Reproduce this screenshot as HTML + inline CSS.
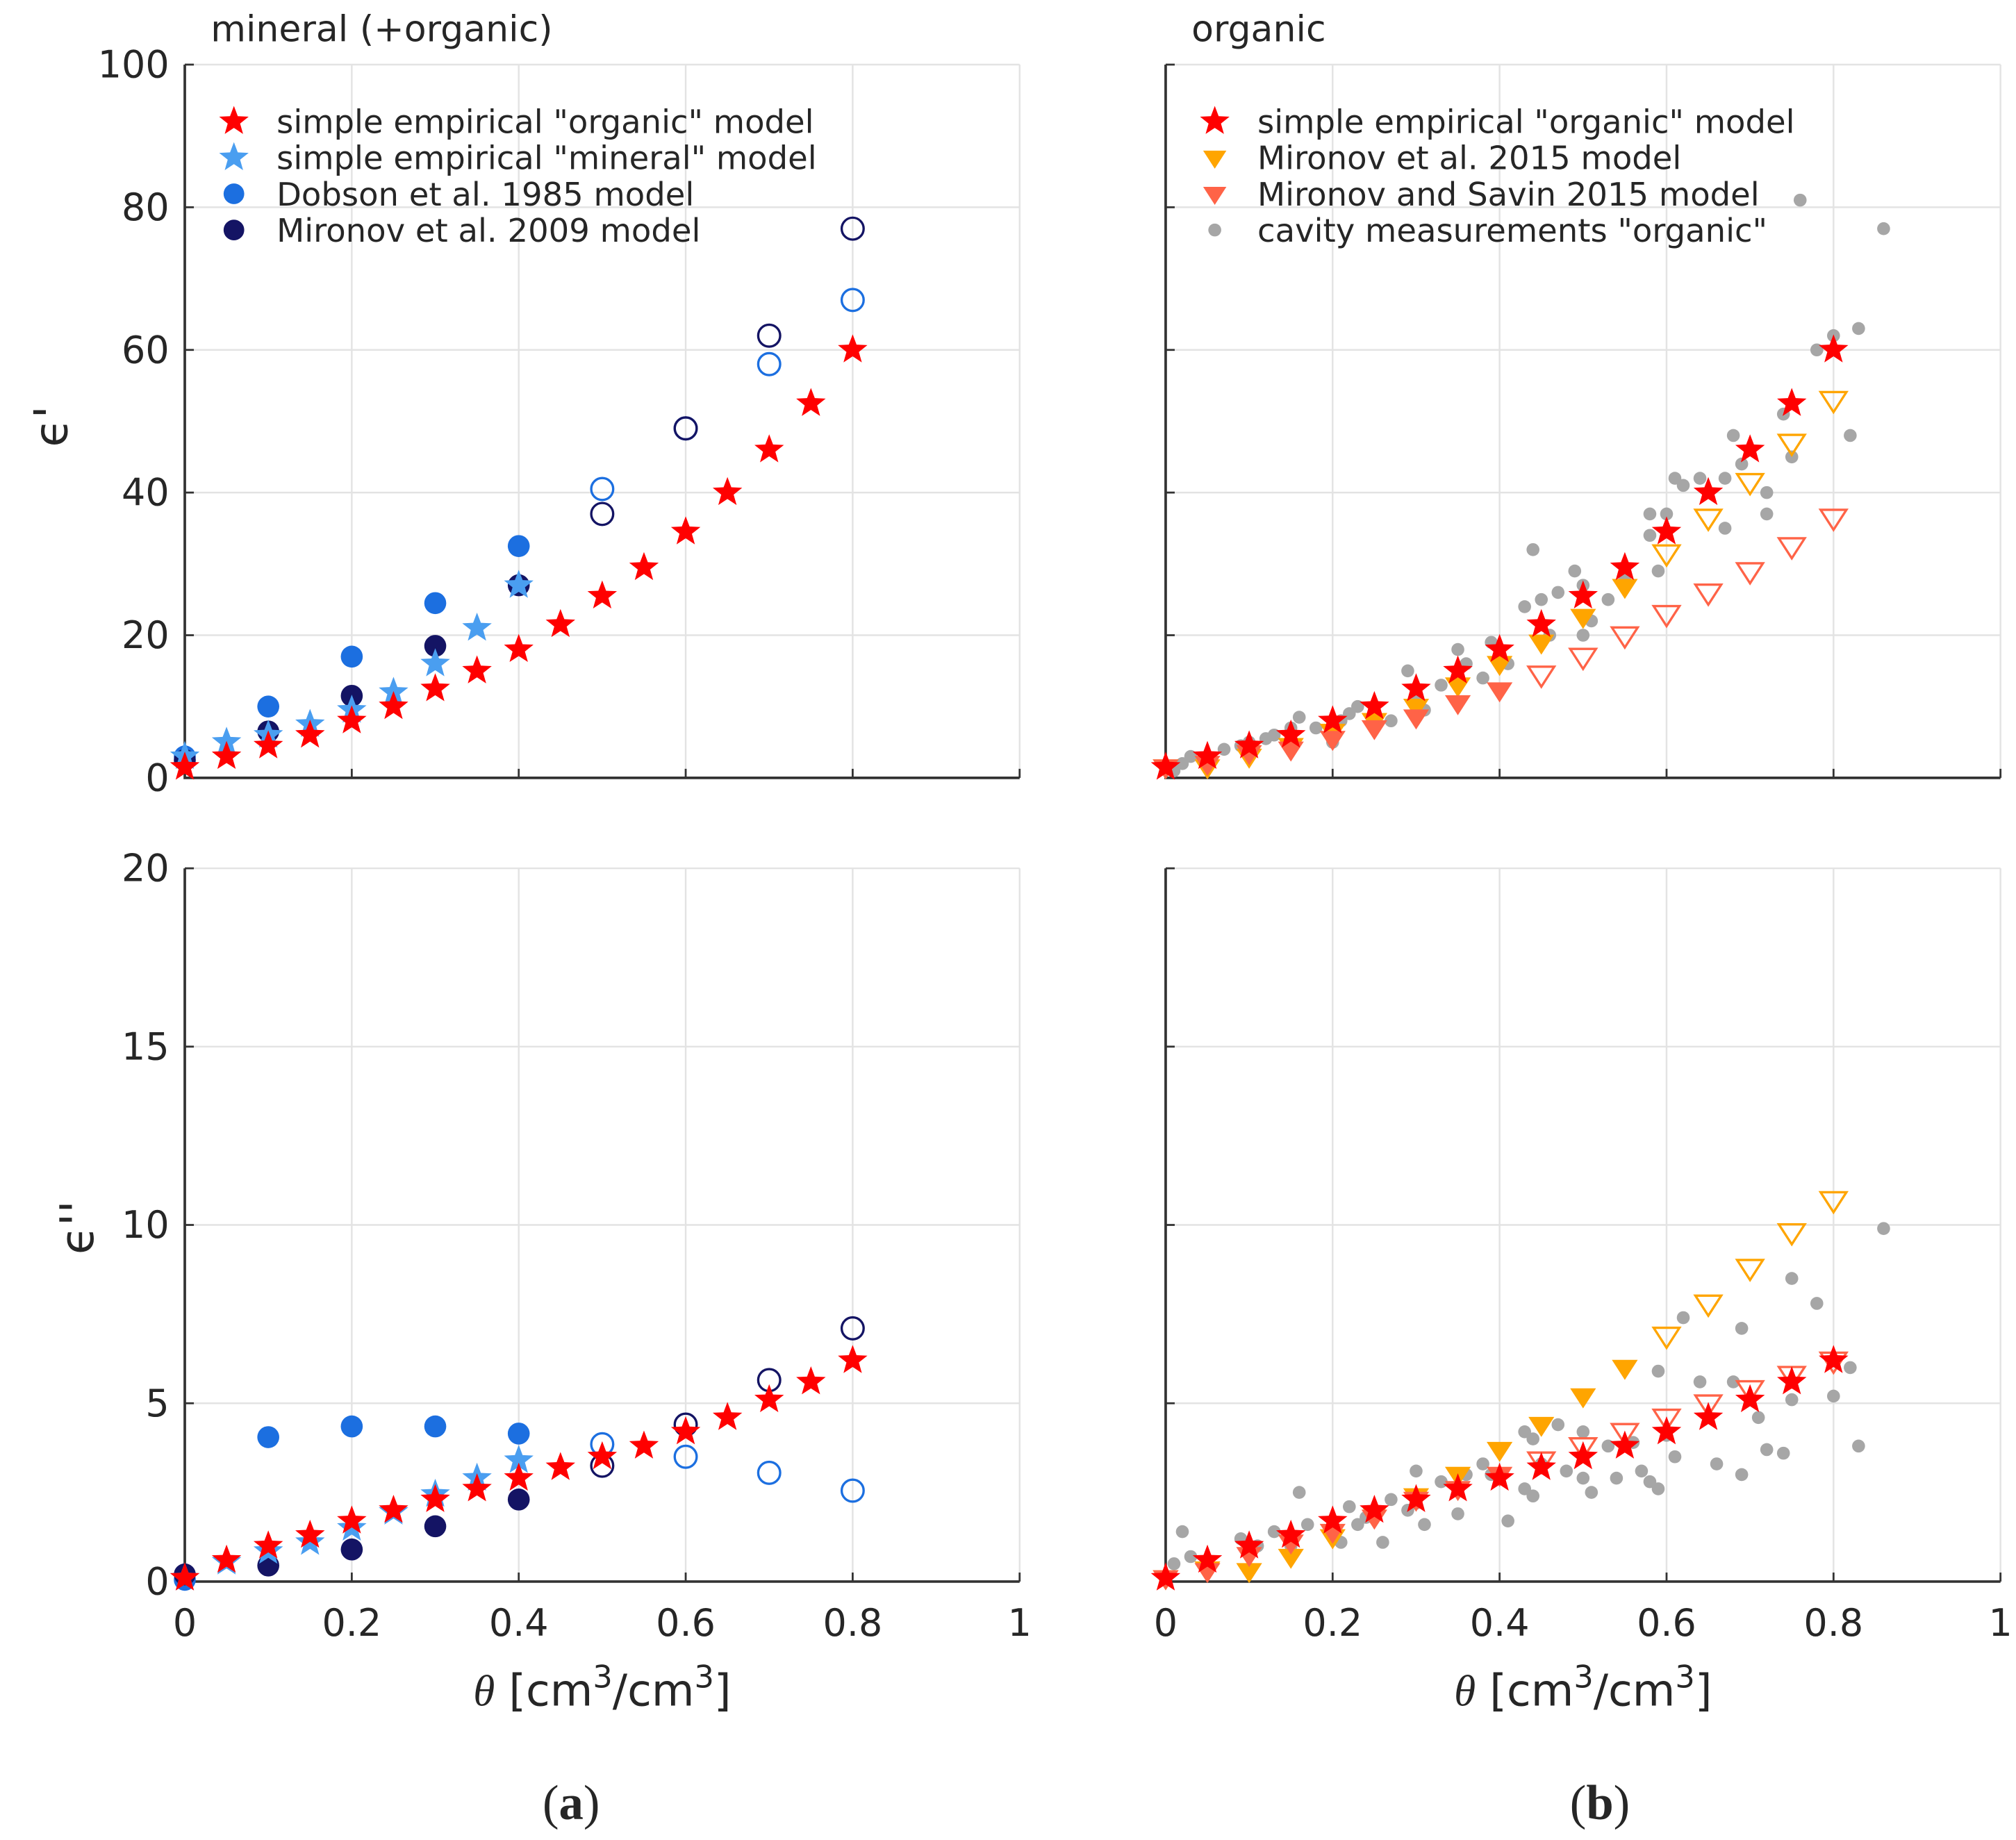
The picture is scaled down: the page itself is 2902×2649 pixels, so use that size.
<!DOCTYPE html>
<html><head><meta charset="utf-8"><style>
html,body{margin:0;padding:0;background:#fff}
svg{display:block}
text{font-family:"DejaVu Sans","Liberation Sans",sans-serif;fill:#262626}
</style></head><body>
<svg id="fig" xmlns="http://www.w3.org/2000/svg" width="2902" height="2649" viewBox="0 0 1560 1424">
<g id="layer"></g>
</svg>
<script>
// ---------- data ----------
const xStep = [0,0.05,0.1,0.15,0.2,0.25,0.3,0.35,0.4,0.45,0.5,0.55,0.6,0.65,0.7,0.75,0.8];
const xTen = [0,0.1,0.2,0.3,0.4,0.5,0.6,0.7,0.8];
const orgModelRe = [1.5,3,4.5,6,8,10,12.5,15,18,21.5,25.5,29.5,34.5,40,46,52.5,60];
const minModelRe = [3,5,6,7.5,9.5,12,16,21,27];
const dobsonRe = [3,10,17,24.5,32.5,40.5,49,58,67];
const mironov09Re = [2.5,6.5,11.5,18.5,27,37,49,62,77];
const orgModelIm = [0.1,0.6,1.0,1.3,1.7,2.0,2.3,2.6,2.9,3.2,3.5,3.8,4.2,4.6,5.1,5.6,6.2];
const minModelIm = [0.1,0.55,0.85,1.1,1.5,1.95,2.45,2.9,3.4];
const dobsonIm = [0.05,4.05,4.35,4.35,4.15,3.85,3.5,3.05,2.55];
const mironov09Im = [0.2,0.45,0.9,1.55,2.3,3.25,4.4,5.65,7.1];
const mir15Re = [1.5,1.5,3,4.5,6.5,8,10,13,16,19,22.6,26.8,31.5,36.5,41.5,47,53];
const savinRe = [1.5,2,3.5,4,5.5,7,8.5,10.5,12.3,14.5,17,20,23,26,29,32.5,36.5];
const mir15Im = [0.1,0.35,0.3,0.7,1.25,1.9,2.4,3.0,3.7,4.4,5.2,6.0,6.9,7.8,8.8,9.8,10.7];
const savinIm = [0.1,0.3,0.75,1.1,1.4,1.8,2.3,2.6,3.0,3.4,3.8,4.2,4.6,5.0,5.4,5.8,6.2];
const cavReX = [0.01,0.02,0.03,0.05,0.07,0.09,0.1,0.12,0.13,0.15,0.16,0.18,0.2,0.21,0.22,0.23,0.25,0.27,0.29,0.3,0.31,0.33,0.35,0.36,0.38,0.39,0.4,0.41,0.43,0.44,0.45,0.46,0.47,0.49,0.5,0.5,0.51,0.53,0.55,0.58,0.58,0.59,0.6,0.61,0.62,0.64,0.65,0.67,0.67,0.68,0.69,0.72,0.72,0.75,0.76,0.78,0.8,0.82,0.83,0.86,0.74];
const cavReY = [1,2,3,2.5,4,4.5,5,5.5,6,7,8.5,7,5,8,9,10,9,8,15,11,9.5,13,18,16,14,19,17,16,24,32,25,20,26,29,27,20,22,25,28,37,34,29,37,42,41,42,40,42,35,48,44,37,40,45,81,60,62,48,63,77,51];
const cavImX = [0.01,0.02,0.03,0.09,0.11,0.13,0.15,0.16,0.17,0.2,0.21,0.22,0.23,0.24,0.26,0.27,0.29,0.3,0.3,0.31,0.33,0.35,0.36,0.38,0.39,0.41,0.43,0.43,0.44,0.44,0.45,0.47,0.48,0.5,0.5,0.51,0.53,0.54,0.56,0.57,0.58,0.59,0.59,0.6,0.61,0.62,0.64,0.66,0.68,0.69,0.69,0.71,0.72,0.74,0.75,0.75,0.78,0.8,0.82,0.83,0.86];
const cavImY = [0.5,1.4,0.7,1.2,1.0,1.4,1.0,2.5,1.6,1.3,1.1,2.1,1.6,1.8,1.1,2.3,2.0,3.1,2.2,1.6,2.8,1.9,3.0,3.3,3.0,1.7,2.6,4.2,4.0,2.4,3.3,4.4,3.1,2.9,4.2,2.5,3.8,2.9,3.9,3.1,2.8,5.9,2.6,4.1,3.5,7.4,5.6,3.3,5.6,7.1,3.0,4.6,3.7,3.6,5.1,8.5,7.8,5.2,6.0,3.8,9.9];
const xTicks = [0,0.2,0.4,0.6,0.8,1];
const xTickLabels = ["0","0.2","0.4","0.6","0.8","1"];
const yTicksTop = [0,20,40,60,80,100];
const yTicksBot = [0,5,10,15,20];

// ---------- drawing ----------
const NS="http://www.w3.org/2000/svg";
const layer=document.getElementById('layer');
function el(tag,attrs,parent,txt){const e=document.createElementNS(NS,tag);for(const k in attrs)e.setAttribute(k,attrs[k]);if(txt!==undefined)e.textContent=txt;(parent||layer).appendChild(e);return e;}
const RED="#ff0000",LB="#4a9ef0",DB="#1c6fe0",NAVY="#141464",OR="#ffa500",TOM="#ff6347",GR="#a6a6a6";
function mkPanel(name,x0,x1,y0,y1,ymax,yticks,showY,showX){
  const g=el('g',{});
  
  
  const sx=v=>x0+(x1-x0)*v, sy=v=>y0-(y0-y1)*v/ymax;
  xTicks.forEach((t,i)=>{
    if(t>0){const l=el('line',{x1:sx(t),x2:sx(t),y1:y0,y2:y1,stroke:'#e3e3e3','stroke-width':1.3},g);}
    const tk=el('line',{x1:sx(t),x2:sx(t),y1:y0,y2:y0-7,stroke:'#333','stroke-width':1.5},g);
    
    if(showX){const tl=el('text',{x:sx(t),y:y0+42,'font-size':29,'text-anchor':'middle'},g,xTickLabels[i]);}
  });
  yticks.forEach(t=>{
    if(t>0){const l=el('line',{x1:x0,x2:x1,y1:sy(t),y2:sy(t),stroke:'#e3e3e3','stroke-width':1.3},g);}
    const tk=el('line',{x1:x0,x2:x0+7,y1:sy(t),y2:sy(t),stroke:'#333','stroke-width':1.5},g);
    
    if(showY){const tl=el('text',{x:x0-12,y:sy(t)+10,'font-size':29,'text-anchor':'end'},g,String(t));}
  });
  const ax=el('path',{d:`M${x0},${y1} L${x0},${y0} L${x1},${y0}`,fill:'none',stroke:'#333','stroke-width':2},g);
  
  return {g,sx,sy};
}
function star(g,cx,cy,r,color){let d='';for(let i=0;i<10;i++){const a=-Math.PI/2+i*Math.PI/5;const rr=i%2?r*0.42:r;d+=(i?'L':'M')+(cx+rr*Math.cos(a)).toFixed(1)+','+(cy+rr*Math.sin(a)).toFixed(1);}const p=el('path',{d:d+'Z',fill:color},g);return p;}
function circ(g,cx,cy,r,color,open){const c=el('circle',{cx,cy,r,fill:open?'none':color,stroke:color,'stroke-width':open?1.8:0},g);return c;}
function tri(g,cx,cy,r,color,open){const d=`M${cx-r},${cy-r*0.6} L${cx+r},${cy-r*0.6} L${cx},${cy+r*0.95}Z`;const p=el('path',{d,fill:open?'none':color,stroke:color,'stroke-width':open?1.8:0},g);return p;}

const L0=143,L1=789,R0=902,R1=1548,T0=602,T1=50,B0=1224,B1=672;
const pTL=mkPanel('panel-a-real',L0,L1,T0,T1,100,yTicksTop,true,false);
const pBL=mkPanel('panel-a-imag',L0,L1,B0,B1,20,yTicksBot,true,true);
const pTR=mkPanel('panel-b-real',R0,R1,T0,T1,100,yTicksTop,false,false);
const pBR=mkPanel('panel-b-imag',R0,R1,B0,B1,20,yTicksBot,false,true);

function drawLeft(p,dob,mir,minM,org){
  xTen.forEach((x,i)=>circ(p.g,p.sx(x),p.sy(dob[i]),8.5,DB,i>4));
  xTen.forEach((x,i)=>circ(p.g,p.sx(x),p.sy(mir[i]),8.5,NAVY,i>4));
  minM.forEach((v,i)=>star(p.g,p.sx(xStep[i]),p.sy(v),12,LB));
  org.forEach((v,i)=>star(p.g,p.sx(xStep[i]),p.sy(v),12,RED));
}
drawLeft(pTL,dobsonRe,mironov09Re,minModelRe,orgModelRe);
drawLeft(pBL,dobsonIm,mironov09Im,minModelIm,orgModelIm);
function drawRight(p,cx,cy,mir,sav,org,mirFill,savFill){
  cx.forEach((x,i)=>circ(p.g,p.sx(x),p.sy(cy[i]),5,GR,false));
  mir.forEach((v,i)=>tri(p.g,p.sx(xStep[i]),p.sy(v),10,OR,i>mirFill));
  sav.forEach((v,i)=>tri(p.g,p.sx(xStep[i]),p.sy(v),10,TOM,i>savFill));
  org.forEach((v,i)=>star(p.g,p.sx(xStep[i]),p.sy(v),12,RED));
}
drawRight(pTR,cavReX,cavReY,mir15Re,savinRe,orgModelRe,11,8);
drawRight(pBR,cavImX,cavImY,mir15Im,savinIm,orgModelIm,11,8);

function legend(name,x,y,items){
  const g=el('g',{});
  
  
  items.forEach((it,i)=>{
    const yy=y+i*28;
    if(it[0]==='star')star(g,x,yy,12,it[1]);
    else if(it[0]==='circ')circ(g,x,yy,8,it[1],false);
    else if(it[0]==='tri')tri(g,x,yy,9,it[1],false);
    else circ(g,x,yy,5,it[1],false);
    const t=el('text',{x:x+33,y:yy+9,'font-size':25},g,it[2]);
    
  });
}
legend('legend-a',181,94,[['star',RED,'simple empirical "organic" model'],['star',LB,'simple empirical "mineral" model'],['circ',DB,'Dobson et al. 1985 model'],['circ',NAVY,'Mironov et al. 2009 model']]);
legend('legend-b',940,94,[['star',RED,'simple empirical "organic" model'],['tri',OR,'Mironov et al. 2015 model'],['tri',TOM,'Mironov and Savin 2015 model'],['dot',GR,'cavity measurements "organic"']]);

function label(name,attrs,txt){const t=el('text',attrs,null,txt);return t;}
label('title-a',{x:163,y:32,'font-size':28},'mineral (+organic)');
label('title-b',{x:922,y:32,'font-size':28},'organic');
label('y-axis-title-real',{x:52,y:330,'font-size':36,transform:'rotate(-90 52 330)','text-anchor':'middle'},"ϵ'");
label('y-axis-title-imag',{x:72,y:950,'font-size':36,transform:'rotate(-90 72 950)','text-anchor':'middle'},"ϵ''");
const xt1=label('x-axis-title-a',{x:466,y:1320,'font-size':34,'text-anchor':'middle'},'');
const xt2=label('x-axis-title-b',{x:1225,y:1320,'font-size':34,'text-anchor':'middle'},'');
[xt1,xt2].forEach(t=>{
  el('tspan',{'font-style':'italic',style:'font-family:"Liberation Serif",serif'},t,'θ');
  el('tspan',{},t,' [cm');el('tspan',{dy:-14,'font-size':24},t,'3');
  el('tspan',{dy:14},t,'/cm');el('tspan',{dy:-14,'font-size':24},t,'3');
  el('tspan',{dy:14},t,']');
});
const pa=label('panel-label-a',{x:442,y:1408,'font-size':38,'text-anchor':'middle',style:'font-family:"Liberation Serif",serif'},'');
const pb=label('panel-label-b',{x:1238,y:1408,'font-size':38,'text-anchor':'middle',style:'font-family:"Liberation Serif",serif'},'');
[[pa,'a'],[pb,'b']].forEach(([t,c])=>{
  el('tspan',{},t,'(');el('tspan',{'font-weight':'bold'},t,c);el('tspan',{},t,')');
});
</script>
</body></html>
